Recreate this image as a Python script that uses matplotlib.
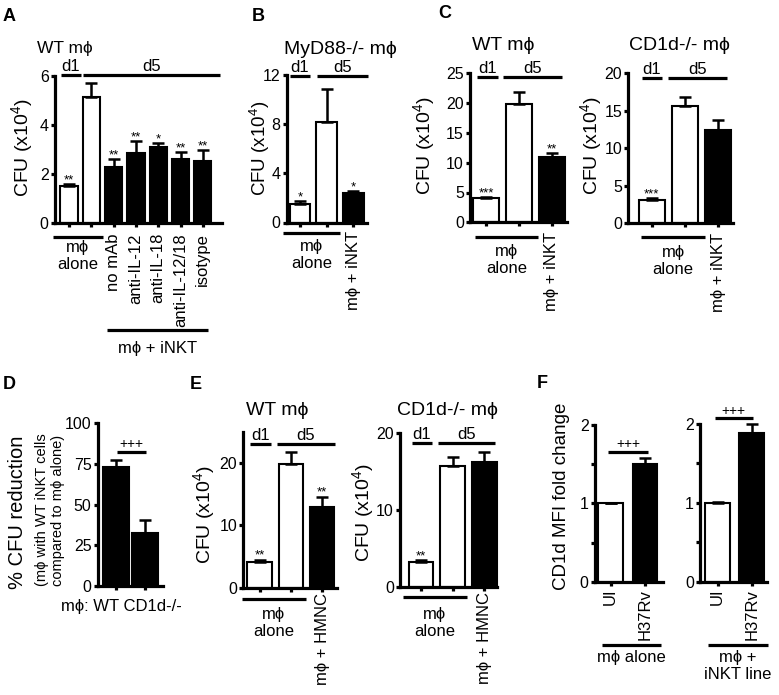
import numpy as np
import matplotlib
matplotlib.use('Agg')
import matplotlib.pyplot as plt
from matplotlib.transforms import blended_transform_factory, offset_copy

plt.rcParams['font.family'] = ['Liberation Sans', 'DejaVu Sans']
plt.rcParams['mathtext.default'] = 'regular'

W, H = 779, 695
MP = 'm\u03d5'

# ---- data ----
a_labels = ['', '', 'no mAb', 'anti-IL-12', 'anti-IL-18', 'anti-IL-12/18', 'isotype']
a_vals = [1.53, 5.14, 2.31, 2.86, 3.12, 2.62, 2.54]
a_tops = [1.60, 5.72, 2.61, 3.36, 3.28, 2.90, 2.99]
a_sig = ['**', '', '**', '**', '*', '**', '**']

b_vals = [1.50, 8.15, 2.40]
b_tops = [1.76, 10.85, 2.55]
b_sig = ['*', '', '*']

c_wt_vals = [4.0, 19.8, 11.0]
c_wt_tops = [4.3, 21.9, 11.6]
c_wt_sig = ['***', '', '**']
c_ko_vals = [3.1, 15.6, 12.5]
c_ko_tops = [3.4, 16.9, 13.8]
c_ko_sig = ['***', '', '']

d_vals = [73.1, 32.4]
d_tops = [77.2, 40.6]

e_wt_vals = [4.1, 19.8, 12.9]
e_wt_tops = [4.5, 21.8, 14.6]
e_wt_sig = ['**', '', '**']
e_ko_vals = [3.2, 15.7, 16.2]
e_ko_tops = [3.5, 16.9, 17.5]
e_ko_sig = ['**', '', '']

f_alone_vals = [1.0, 1.5]
f_alone_tops = [1.01, 1.58]
f_inkt_vals = [1.0, 1.88]
f_inkt_tops = [1.01, 2.0]

fig = plt.figure(figsize=(W / 100, H / 100), dpi=100)


def panel(rect, c0, step, ymax, yticks, vals, tops, fills, width=0.78,
          xlabels=None, pad=3, sig=None, yticklabels=None):
    left, right, top, bottom = rect
    ax = fig.add_axes([left / W, 1 - bottom / H, (right - left) / W, (bottom - top) / H])
    n = len(vals)
    x = np.arange(n)
    ax.bar(x, vals, width, color=fills, edgecolor='k', linewidth=1.5, zorder=3, clip_on=False)
    ax.errorbar(x, vals, yerr=[np.zeros(n), np.array(tops) - np.array(vals)], fmt='none',
                ecolor='k', elinewidth=1.8, capsize=4, capthick=1.8, zorder=4, clip_on=False)
    ax.set_xlim((left - c0) / step, (right - c0) / step)
    ax.set_ylim(0, ymax)
    for s in ['top', 'right']:
        ax.spines[s].set_visible(False)
    for s in ['left', 'bottom']:
        ax.spines[s].set_linewidth(2.3)
        ax.spines[s].set_zorder(5)
    ax.set_yticks(yticks)
    if yticklabels is not None:
        ax.set_yticklabels(yticklabels)
    ax.set_xticks(x)
    ax.set_xticklabels(xlabels if xlabels else [''] * n, rotation=90, fontsize=12)
    ax.tick_params(axis='both', width=2.3, length=3, direction='out', labelsize=11.5)
    ax.tick_params(axis='y', pad=1.5)
    ax.tick_params(axis='x', pad=pad, labelsize=12)
    if sig:
        for xi, t, s in zip(x, tops, sig):
            if s:
                ax.annotate(s, xy=(xi, t), xytext=(0, 0.5), textcoords='offset points',
                            ha='center', va='baseline', fontsize=9.5, annotation_clip=False)
    return ax


def dline(ax, x0, x1, y, label):
    ax.plot([x0, x1], [y, y], color='k', lw=2.3, clip_on=False, solid_capstyle='butt')
    ax.annotate(label, xy=((x0 + x1) / 2, y), xytext=(0, 3), textcoords='offset points',
                ha='center', va='baseline', fontsize=12, annotation_clip=False)


def under(ax, x0, x1, dy, label=None, tdy=None, va='top'):
    base = blended_transform_factory(ax.transData, ax.transAxes)
    tr = offset_copy(base, fig=fig, y=-dy, units='dots')
    ax.plot([x0, x1], [0, 0], transform=tr, color='k', lw=2.3, clip_on=False,
            solid_capstyle='butt')
    if label:
        ttr = offset_copy(base, fig=fig, y=-tdy, units='dots')
        ax.text((x0 + x1) / 2, 0, label, transform=ttr, ha='center', va=va,
                fontsize=12, linespacing=1.15)


def bracket(ax, x0, x1, y, label='+++'):
    ax.plot([x0, x1], [y, y], color='k', lw=2.3, clip_on=False, solid_capstyle='butt')
    ax.annotate(label, xy=((x0 + x1) / 2, y), xytext=(0, 2.5), textcoords='offset points',
                ha='center', va='baseline', fontsize=10, annotation_clip=False)


def ftext(x, y, s, **kw):
    fig.text(x / W, 1 - y / H, s, **kw)


def ylab(x, y, s, size=14):
    ftext(x, y, s, rotation=90, ha='center', va='center', fontsize=size)


wk = ['white', 'white']
cfu = 'CFU (x10$^4$)'
alone = MP + '\nalone'
inkt = MP + ' + iNKT'
hmnc = MP + ' + HMNC'

# ---- A ----
ax = panel((55, 222, 76, 223.3), 69, 22.3, 6, [0, 2, 4, 6], a_vals, a_tops,
           wk + ['black'] * 5, xlabels=a_labels, pad=4, sig=a_sig)
dline(ax, -0.37, 0.52, 6.04, 'd1')
dline(ax, 0.61, 6.77, 6.04, 'd5')
under(ax, -0.72, 1.52, 13.7, alone, 17)
under(ax, 1.69, 6.25, 107, inkt, 125, va='center')
ylab(22, 148, cfu)
ftext(65, 53, 'WT ' + MP, ha='center', va='baseline', fontsize=12.5)
ftext(3, 21, 'A', ha='left', va='baseline', fontsize=13, fontweight='bold')

# ---- B ----
ax = panel((286.5, 367, 75, 222.5), 300, 26.67, 12, [0, 4, 8, 12], b_vals, b_tops,
           wk + ['black'], xlabels=['', '', inkt], pad=3, sig=b_sig)
dline(ax, -0.375, 0.375, 11.9, 'd1')
dline(ax, 0.63, 2.55, 11.9, 'd5')
under(ax, -0.64, 1.5, 10.2, alone, 17)
ylab(260, 148, cfu, 13.5)
ftext(340, 54, 'MyD88-/- ' + MP, ha='center', va='baseline', fontsize=14)
ftext(252, 21, 'B', ha='left', va='baseline', fontsize=13, fontweight='bold')

# ---- C ----
ax = panel((470, 566.7, 73.3, 222.3), 486, 32.85, 25, [0, 5, 10, 15, 20, 25],
           c_wt_vals, c_wt_tops, wk + ['black'], xlabels=['', '', inkt], pad=4,
           sig=c_wt_sig)
dline(ax, -0.28, 0.37, 24.4, 'd1')
dline(ax, 0.52, 2.3, 24.4, 'd5')
under(ax, -0.33, 1.59, 15, alone, 22)
ylab(424, 146, cfu)
ftext(503, 50, 'WT ' + MP, ha='center', va='baseline', fontsize=14)
ftext(438, 18.5, 'C', ha='left', va='baseline', fontsize=13, fontweight='bold')

ax = panel((628.3, 733.3, 73.3, 223.3), 651.7, 33.3, 20, [0, 5, 10, 15, 20],
           c_ko_vals, c_ko_tops, wk + ['black'], xlabels=['', '', inkt], pad=4,
           sig=c_ko_sig)
dline(ax, -0.3, 0.3, 19.4, 'd1')
dline(ax, 0.5, 2.25, 19.4, 'd5')
under(ax, -0.32, 1.6, 14, alone, 22)
ylab(591, 146, cfu)
ftext(679, 50, 'CD1d-/- ' + MP, ha='center', va='baseline', fontsize=14)

# ---- D ----
ax = panel((97.7, 163.3, 423.3, 586), 116, 29.3, 100, [0, 25, 50, 75, 100],
           d_vals, d_tops, ['black', 'black'], width=0.88)
bracket(ax, 0.02, 1.04, 82.5)
ftext(121, 611, MP + ': WT CD1d-/-', ha='center', va='baseline', fontsize=12)
ylab(18, 512, '% CFU reduction', 14.5)
ylab(42, 510, '(' + MP + ' with WT iNKT cells', 10.5)
ylab(58, 510, 'compared to ' + MP + ' alone)', 10.5)
ftext(3, 389, 'D', ha='left', va='baseline', fontsize=13, fontweight='bold')

# ---- E ----
ax = panel((243.3, 336.7, 431.7, 587.7), 259.5, 31.3, 25, [0, 10, 20],
           e_wt_vals, e_wt_tops, wk + ['black'], xlabels=['', '', hmnc], pad=1,
           sig=e_wt_sig)
dline(ax, -0.3, 0.36, 23.0, 'd1')
dline(ax, 0.55, 2.41, 23.0, 'd5')
under(ax, -0.57, 1.49, 11.6, alone, 19)
ylab(204, 515, cfu)
ftext(277, 415, 'WT ' + MP, ha='center', va='baseline', fontsize=14)
ftext(190, 389, 'E', ha='left', va='baseline', fontsize=13, fontweight='bold')

ax = panel((400, 496.7, 432.7, 586.7), 421, 31.7, 20, [0, 10, 20],
           e_ko_vals, e_ko_tops, wk + ['black'], xlabels=['', '', hmnc], pad=1,
           sig=e_ko_sig)
dline(ax, -0.29, 0.34, 18.7, 'd1')
dline(ax, 0.55, 2.33, 18.7, 'd5')
under(ax, -0.58, 1.44, 10.6, alone, 20)
ylab(363, 513, cfu)
ftext(447, 415, 'CD1d-/- ' + MP, ha='center', va='baseline', fontsize=14)

# ---- F ----
fy = [0, 0.5, 1, 1.5, 2]
fyl = ['0', '', '1', '', '2']
ax = panel((595, 663.3, 425, 581.7), 610.7, 34.3, 2, fy, f_alone_vals, f_alone_tops,
           ['white', 'black'], width=0.72, xlabels=['UI', 'H37Rv'], pad=2,
           yticklabels=fyl)
bracket(ax, -0.07, 1.08, 1.66)
under(ax, -0.26, 1.47, 63.3, MP + ' alone', 68)
ylab(561, 496, 'CD1d MFI fold change', 13.5)
ftext(537, 388, 'F', ha='left', va='baseline', fontsize=13, fontweight='bold')

ax = panel((700, 767.3, 424, 581.7), 717.7, 34, 2, fy, f_inkt_vals, f_inkt_tops,
           ['white', 'black'], width=0.72, xlabels=['UI', 'H37Rv'], pad=2,
           yticklabels=fyl)
bracket(ax, -0.08, 1.03, 2.07)
under(ax, -0.285, 1.47, 63.3, MP + ' +\niNKT line', 68)

fig.savefig('out.png', dpi=100)
